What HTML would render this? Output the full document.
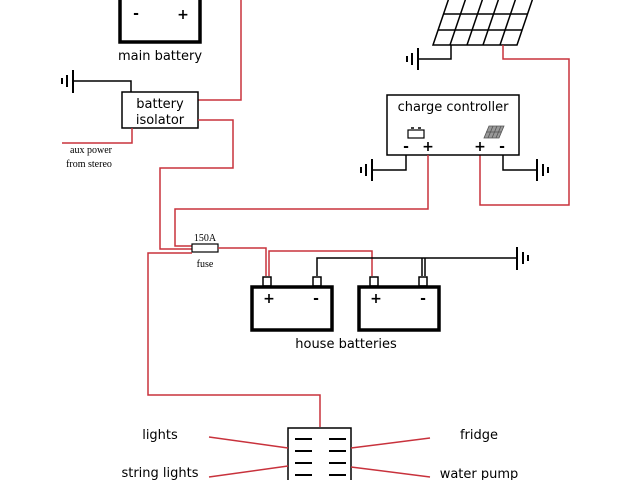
<!DOCTYPE html>
<html><head><meta charset="utf-8"><style>body{margin:0;background:#fff}svg{display:block}</style></head>
<body>
<svg width="640" height="480" viewBox="0 0 640 480" xmlns="http://www.w3.org/2000/svg" font-family="'DejaVu Sans','Liberation Sans',sans-serif">
<g fill="none" stroke-linejoin="miter">
<!-- main battery -->
<rect x="120" y="-4" width="80" height="46" stroke="#000" stroke-width="3.5"/>
<!-- red main battery to isolator -->
<polyline points="241,0 241,100 198,100" stroke="#c8323c" stroke-width="1.5"/>
<!-- isolator -->
<rect x="122" y="92" width="76" height="36" stroke="#000" stroke-width="1.5"/>
<polyline points="73,81 131,81 131,92" stroke="#000" stroke-width="1.5"/>
<line x1="73" y1="70" x2="73" y2="93" stroke="#000" stroke-width="2"/>
<line x1="67" y1="75" x2="67" y2="87" stroke="#000" stroke-width="2"/>
<line x1="62" y1="78" x2="62" y2="84" stroke="#000" stroke-width="2"/>
<polyline points="62,143 132,143 132,128" stroke="#c8323c" stroke-width="1.5"/>
<polyline points="198,120 233,120 233,168 160,168 160,249 192,249" stroke="#c8323c" stroke-width="1.5"/>
<!-- solar -->
<g stroke="#000" stroke-width="1.5">
<polygon points="433,45 517,45 535,-8 451,-8"/>
<line x1="438" y1="30" x2="522" y2="30"/>
<line x1="443" y1="14" x2="527" y2="14"/>
<line x1="450" y1="45" x2="468" y2="-8"/>
<line x1="467" y1="45" x2="485" y2="-8"/>
<line x1="483" y1="45" x2="501" y2="-8"/>
<line x1="500" y1="45" x2="518" y2="-8"/>
<polyline points="451,45 451,59 418,59"/>
<line x1="418" y1="48" x2="418" y2="70" stroke-width="2"/>
<line x1="412" y1="53" x2="412" y2="65" stroke-width="2"/>
<line x1="407" y1="56" x2="407" y2="62" stroke-width="2"/>
</g>
<polyline points="503,45 503,59 569,59 569,205 480,205 480,155" stroke="#c8323c" stroke-width="1.5"/>
<!-- controller -->
<rect x="387" y="95" width="132" height="60" stroke="#000" stroke-width="1.5"/>
<rect x="408" y="130" width="16" height="8" stroke="#000" stroke-width="1.2"/>
<line x1="411" y1="128" x2="414" y2="128" stroke="#000" stroke-width="1.5"/>
<line x1="418" y1="128" x2="421" y2="128" stroke="#000" stroke-width="1.5"/>
<g stroke="#555" stroke-width="0.8">
<polygon points="484,138 499,138 504,126 489,126" fill="#999"/>
<line x1="488" y1="138" x2="493" y2="126"/><line x1="492" y1="138" x2="497" y2="126"/><line x1="496" y1="138" x2="501" y2="126"/>
<line x1="486" y1="132" x2="501" y2="132"/>
</g>
<g stroke="#000" stroke-width="1.5">
<polyline points="406,155 406,170 372,170"/>
<line x1="372" y1="159" x2="372" y2="181" stroke-width="2"/>
<line x1="366" y1="164" x2="366" y2="176" stroke-width="2"/>
<line x1="361" y1="167" x2="361" y2="173" stroke-width="2"/>
<polyline points="503,155 503,170 537,170"/>
<line x1="537" y1="159" x2="537" y2="181" stroke-width="2"/>
<line x1="543" y1="164" x2="543" y2="176" stroke-width="2"/>
<line x1="548" y1="167" x2="548" y2="173" stroke-width="2"/>
</g>
<polyline points="428,155 428,209 175,209 175,246 192,246" stroke="#c8323c" stroke-width="1.5"/>
<!-- fuse -->
<rect x="192" y="244" width="26" height="8" stroke="#000" stroke-width="1.2"/>
<polyline points="218,248 266,248 266,276" stroke="#c8323c" stroke-width="1.5"/>
<polyline points="269,276 269,251 372,251 372,276" stroke="#c8323c" stroke-width="1.5"/>
<polyline points="192,253 148,253 148,395 320,395 320,427" stroke="#c8323c" stroke-width="1.5"/>
<!-- black battery links -->
<g stroke="#000" stroke-width="1.5">
<polyline points="317,276 317,258 517,258"/>
<polyline points="422,258 422,276"/>
<polyline points="425,258 425,276"/>
<line x1="517" y1="247" x2="517" y2="270" stroke-width="2"/>
<line x1="523" y1="252" x2="523" y2="264" stroke-width="2"/>
<line x1="528" y1="255" x2="528" y2="261" stroke-width="2"/>
</g>
<!-- house batteries -->
<g stroke="#000">
<rect x="252" y="287" width="80" height="43" stroke-width="3.5"/>
<rect x="359" y="287" width="80" height="43" stroke-width="3.5"/>
<rect x="263" y="277" width="8" height="9" stroke-width="1.5"/>
<rect x="313" y="277" width="8" height="9" stroke-width="1.5"/>
<rect x="370" y="277" width="8" height="9" stroke-width="1.5"/>
<rect x="419" y="277" width="8" height="9" stroke-width="1.5"/>
</g>
<!-- switch panel -->
<rect x="288" y="428" width="63" height="56" stroke="#000" stroke-width="1.5"/>
<g stroke="#000" stroke-width="2">
<line x1="295" y1="439" x2="312" y2="439"/><line x1="329" y1="439" x2="346" y2="439"/>
<line x1="295" y1="451" x2="312" y2="451"/><line x1="329" y1="451" x2="346" y2="451"/>
<line x1="295" y1="463" x2="312" y2="463"/><line x1="329" y1="463" x2="346" y2="463"/>
<line x1="295" y1="475" x2="312" y2="475"/><line x1="329" y1="475" x2="346" y2="475"/>
</g>
<g stroke="#c8323c" stroke-width="1.5">
<line x1="209" y1="437" x2="288" y2="448"/>
<line x1="209" y1="477" x2="288" y2="466"/>
<line x1="351" y1="448" x2="430" y2="438"/>
<line x1="351" y1="467" x2="430" y2="477"/>
</g>
</g>
<g fill="#000" font-size="13" text-anchor="middle">
<text x="160" y="60">main battery</text>
<text x="160" y="108">battery</text>
<text x="160" y="124">isolator</text>
<text x="453" y="111">charge controller</text>
<text x="346" y="348">house batteries</text>
<text x="160" y="439">lights</text>
<text x="160" y="477">string lights</text>
<text x="479" y="439">fridge</text>
<text x="479" y="478">water pump</text>
</g>
<g fill="#000" font-size="14" font-weight="bold" text-anchor="middle">
<text x="136" y="18">-</text><text x="183" y="19">+</text>
<text x="406" y="151">-</text><text x="428" y="151">+</text>
<text x="480" y="151">+</text><text x="502" y="151">-</text>
<text x="269" y="303">+</text><text x="316" y="303">-</text>
<text x="376" y="303">+</text><text x="423" y="303">-</text>
</g>
<g fill="#000" font-family="'Liberation Serif',serif" font-size="10" text-anchor="middle">
<text x="91" y="153">aux power</text>
<text x="89" y="167">from stereo</text>
<text x="205" y="241">150A</text>
<text x="205" y="267">fuse</text>
</g>
</svg>
</body></html>
